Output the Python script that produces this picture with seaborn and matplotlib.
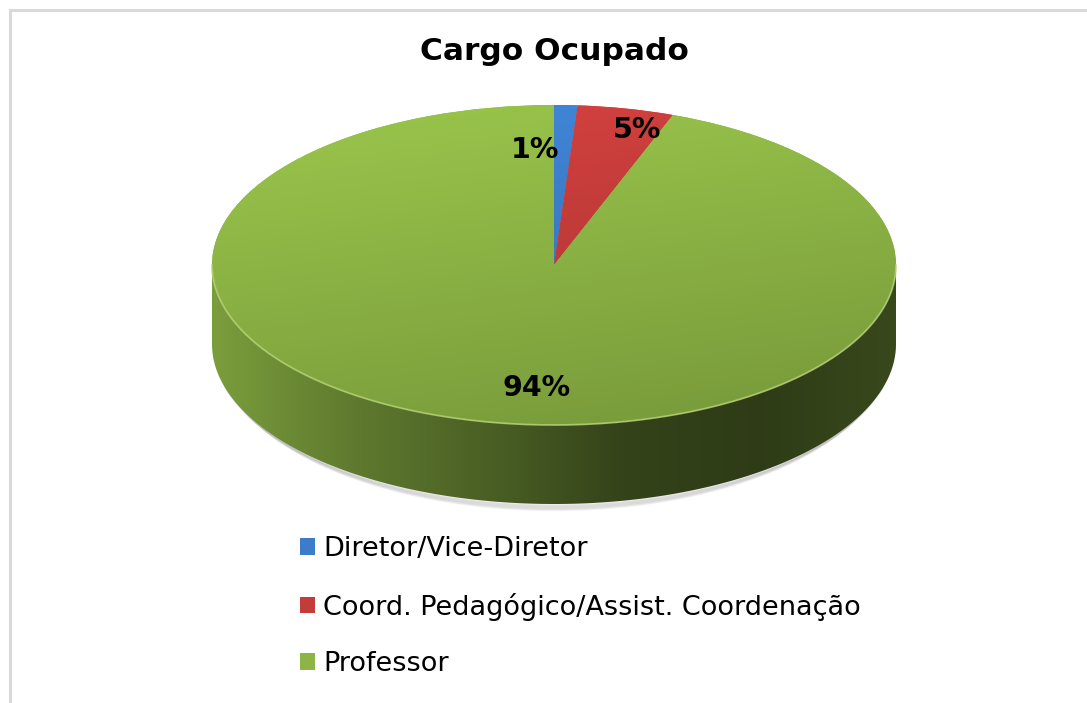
import numpy as np
import matplotlib
matplotlib.use("Agg")
import matplotlib.pyplot as plt
import seaborn as sns
from matplotlib.colors import LinearSegmentedColormap, to_rgb
from matplotlib.patches import Polygon, Rectangle

sns.set_theme(style="white")
plt.rcParams['font.family'] = ['DejaVu Sans']

# Dados
cargos = ["Diretor/Vice-Diretor", "Coord. Pedagógico/Assist. Coordenação", "Professor"]
percentuais = [1.1, 4.55, 94.35]
cores = ["#3c7cc8", "#c33c3a", "#8db545"]

# Layout (pixels da imagem)
W, H = 1087, 703
cx, cy = 554, 265          # centro da elipse
rx, ry = 342, 160          # raios horizontal / vertical
depth_px = 79              # espessura da "pizza"
rotulo_px = [(535, 150), (637, 130), (537, 388)]

fig = plt.figure(figsize=(W / 100, H / 100), dpi=100)
fig.patch.set_facecolor("white")

# moldura cinza (só esquerda e topo aparecem)
fig.patches.append(Rectangle((9.5 / W, -0.05), 1.2, 1 - 10 / H + 0.05,
                             transform=fig.transFigure, fill=False,
                             edgecolor="#d9d9d9", lw=2.2))

ax = fig.add_axes([0, 0, 1, 1])

def to_data(px, py):
    return (px - cx) / rx, (cy - py) / ry

wedges, texts, autotexts = ax.pie(
    percentuais, colors=cores, startangle=90, counterclock=False,
    radius=1, center=(0, 0), autopct=lambda p: f"{p:.0f}%",
    pctdistance=0.8, wedgeprops=dict(linewidth=0), frame=True,
    textprops=dict(fontsize=20.5, fontweight="bold", color="black"))

d = depth_px / ry

# sombra suave sob a base
t = np.radians(np.linspace(195, 345, 300))
for k in range(1, 7):
    ax.plot(np.cos(t) * (1 - 0.004 * k), np.sin(t) - d - 0.006 * k,
            color="#808080", lw=2.0, alpha=0.10, zorder=0.5,
            solid_capstyle="round")

# lateral (parte frontal visível)
side_fac = [0.87, 0.68, 0.53, 0.37, 0.33, 0.40]
for w, cor in zip(wedges, cores):
    w.set_zorder(2)
    t = np.radians(np.linspace(w.theta1, w.theta2, 600))
    vis = np.sin(t) <= 0
    if not vis.any():
        continue
    tv = t[vis]
    top = np.column_stack([np.cos(tv), np.sin(tv)])
    bot = np.column_stack([np.cos(tv), np.sin(tv) - d])[::-1]
    poly = Polygon(np.vstack([top, bot]), closed=True, facecolor="none",
                   edgecolor="none", zorder=1)
    ax.add_patch(poly)
    base = np.array(to_rgb(cor))
    cmap = LinearSegmentedColormap.from_list(
        "lado", [tuple(np.clip(base * f, 0, 1)) for f in side_fac])
    grad = np.linspace(0, 1, 256)[None, :]
    im = ax.imshow(grad, cmap=cmap, extent=(-1, 1, -1 - d, 0.05),
                   aspect="auto", origin="lower", zorder=1)
    im.set_clip_path(poly)

# topo com gradiente
X, Y = np.meshgrid(np.linspace(-1, 1, 300), np.linspace(-1, 1, 300))
V = 0.3 * X - Y
V = (V - V.min()) / (V.max() - V.min())
fac = 1.10 - 0.26 * V
for w, cor in zip(wedges, cores):
    base = np.array(to_rgb(cor))
    img = np.clip(base[None, None, :] * fac[..., None], 0, 1)
    im = ax.imshow(img, extent=(-1, 1, -1, 1), origin="lower",
                   aspect="auto", zorder=3)
    im.set_clip_path(w)

# brilho na borda frontal
t = np.radians(np.linspace(180, 360, 300))
ax.plot(np.cos(t), np.sin(t), color="#b3d276", lw=1.3, alpha=0.8, zorder=4)

# rótulos de porcentagem
for txt, (px, py) in zip(autotexts, rotulo_px):
    txt.set_position(to_data(px, py))
    txt.set_ha("center")
    txt.set_va("center")
    txt.set_zorder(5)

ax.set_xlim(-cx / rx, (W - cx) / rx)
ax.set_ylim(-(H - cy) / ry, cy / ry)
ax.set_aspect("auto")
ax.axis("off")

fig.text(cx / W, 1 - 51 / H, "Cargo Ocupado", ha="center", va="center",
         fontsize=22.5, fontweight="bold", color="black")

leg = ax.legend(wedges, cargos, loc="upper left",
                bbox_to_anchor=(300 / W, 1 - 536 / H), bbox_transform=fig.transFigure,
                frameon=False, fontsize=19.5, handlelength=0.55, handleheight=0.55,
                handletextpad=0.3, labelspacing=1.13, borderpad=0, borderaxespad=0)
for txt in leg.get_texts():
    txt.set_color("black")

fig.savefig("out.png", dpi=100, facecolor="white")
